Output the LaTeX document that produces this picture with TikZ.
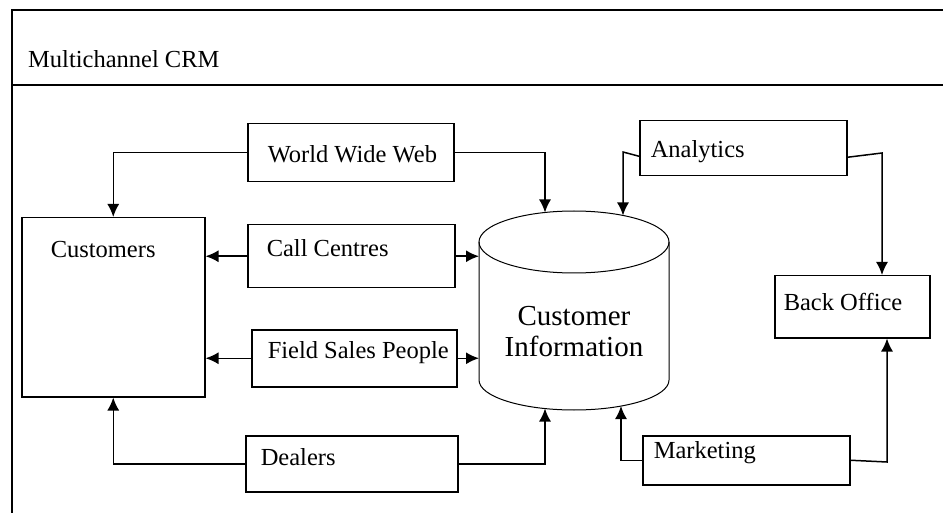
\documentclass[tikz,border=0pt]{standalone}
\usepackage{fontspec}
\setmainfont{Liberation Serif}
\usepackage{tikz}
\usetikzlibrary{arrows.meta}

\newcommand\boxfont{\fontsize{24.5}{29}\selectfont}
\newcommand\cylfont{\fontsize{29}{31}\selectfont}

\tikzset{
  box/.style={draw, line width=1.5pt, anchor=north west, inner sep=0pt,
    align=flush left, font=\boxfont, execute at begin node={\hspace*{#1pt}}},
  conn/.style={line width=1.5pt, -{Latex[length=13pt,width=12pt]}},
  cyl/.style={line width=1pt}
}

\begin{document}
\begin{tikzpicture}[x=1pt,y=-1pt]

\useasboundingbox (0,0) rectangle (943,513);

% frame and title
\draw[line width=1.4pt] (943,10) -- (12,10) -- (12,513);
\draw[line width=1.4pt] (12,85) -- (943,85);
\node[anchor=base west, inner sep=0pt, font=\boxfont] (title) at (28,68) {Multichannel CRM};

% boxes
\node[box=29, text width=183pt, text height=40pt, text depth=139pt] (customers) at (21,217) {Customers};
\node[box=20, text width=206pt, text height=39pt, text depth=19pt] (www) at (247,123) {World Wide Web};
\node[box=19, text width=207pt, text height=32pt, text depth=31pt] (calls) at (247,224) {Call Centres};
\node[box=16, text width=205pt, text height=29pt, text depth=28pt] (field) at (251,329) {Field Sales People};
\node[box=15, text width=212pt, text height=30pt, text depth=26pt] (dealers) at (245,435) {Dealers};
\node[box=11, text width=207pt, text height=37pt, text depth=18pt] (analytics) at (639,120) {Analytics};
\node[box=9, text width=155pt, text height=35pt, text depth=27pt] (backoffice) at (774,275) {Back Office};
\node[box=11, text width=207pt, text height=23pt, text depth=26pt] (marketing) at (642,435) {Marketing};

% database
\draw[cyl] (574,242) ellipse [x radius=95, y radius=31];
\draw[cyl] (479,242) -- (479,380) arc [start angle=180, end angle=0, x radius=95, y radius=30] -- (669,242);
\node[align=center, font=\cylfont, inner sep=0pt] (info) at (574,332) {Customer\\Information};

\coordinate (cylW) at (479,242);
\coordinate (ct1) at (545,212.5);
\coordinate (ct2) at (623,215.5);
\coordinate (cb1) at (545,408.5);
\coordinate (cb2) at (621,406);
\coordinate (abend) at (623,152);
\coordinate (bbend) at (882,153);
\coordinate (mbend) at (887,462);

% connectors
\draw[conn] (www.west) -| (customers.north);
\draw[conn] (www.east) -| (ct1);
\draw[conn] (calls.west) -- (calls.west -| customers.east);
\draw[conn] (calls.east) -- (calls.east -| cylW);
\draw[conn] (field.west) -- (field.west -| customers.east);
\draw[conn] (field.east) -- (field.east -| cylW);
\draw[conn] (dealers.west) -| (customers.south);
\draw[conn] (dealers.east) -| (cb1);
\draw[conn] ([yshift=-8pt]analytics.west) -- (abend) -- (ct2);
\draw[conn] ([yshift=-9pt]analytics.east) -- (bbend) -- (bbend |- backoffice.north);
\draw[conn] (marketing.east) -- (mbend) -- (mbend |- backoffice.south);
\draw[conn] (marketing.west) -| (cb2);

\end{tikzpicture}
\end{document}
